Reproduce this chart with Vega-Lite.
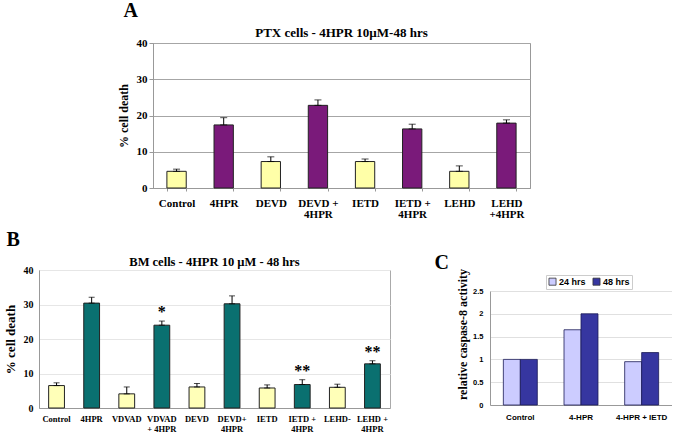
{
  "$schema": "https://vega.github.io/schema/vega-lite/v6.json",
  "background": "white",
  "padding": {"left": 3, "top": 0, "right": 0, "bottom": 0},
  "config": {
    "font": "Liberation Serif",
    "view": {"stroke": "#999999"},
    "axis": {"labelFontWeight": "bold", "titleFontWeight": "bold", "labelColor": "black", "titleColor": "black", "domainColor": "#999999", "tickColor": "#999999"},
    "title": {"fontWeight": "bold", "color": "black"}
  },
  "title": {"text": "A", "anchor": "start", "fontSize": 20, "dx": 120, "offset": 6},
  "datasets": {
    "ptx": [
      {"label": "Control", "v": 4.6, "e": 5.2, "g": "ctrl"},
      {"label": "4HPR", "v": 17.4, "e": 19.4, "g": "hpr"},
      {"label": "DEVD", "v": 7.3, "e": 8.6, "g": "ctrl"},
      {"label": "DEVD +|4HPR", "v": 22.8, "e": 24.3, "g": "hpr"},
      {"label": "IETD", "v": 7.3, "e": 8.0, "g": "ctrl"},
      {"label": "IETD +|4HPR", "v": 16.3, "e": 17.6, "g": "hpr"},
      {"label": "LEHD", "v": 4.6, "e": 6.1, "g": "ctrl"},
      {"label": "LEHD|+4HPR", "v": 17.9, "e": 18.8, "g": "hpr"}
    ],
    "bm": [
      {"label": "Control", "v": 6.5, "e": 7.3, "g": "ctrl", "sig": ""},
      {"label": "4HPR", "v": 30.4, "e": 32.1, "g": "hpr", "sig": ""},
      {"label": "VDVAD", "v": 4.1, "e": 6.1, "g": "ctrl", "sig": ""},
      {"label": "VDVAD|+ 4HPR", "v": 24.0, "e": 25.2, "g": "hpr", "sig": "*"},
      {"label": "DEVD", "v": 6.1, "e": 7.1, "g": "ctrl", "sig": ""},
      {"label": "DEVD+|4HPR", "v": 30.2, "e": 32.5, "g": "hpr", "sig": ""},
      {"label": "IETD", "v": 5.8, "e": 6.7, "g": "ctrl", "sig": ""},
      {"label": "IETD +|4HPR", "v": 6.8, "e": 8.2, "g": "hpr", "sig": "**"},
      {"label": "LEHD-", "v": 6.0, "e": 6.9, "g": "ctrl", "sig": ""},
      {"label": "LEHD +|4HPR", "v": 12.8, "e": 13.7, "g": "hpr", "sig": "**"}
    ],
    "casp": [
      {"cat": "Control", "series": "24 hrs", "v": 1.0},
      {"cat": "Control", "series": "48 hrs", "v": 1.0},
      {"cat": "4-HPR", "series": "24 hrs", "v": 1.65},
      {"cat": "4-HPR", "series": "48 hrs", "v": 2.0},
      {"cat": "4-HPR + IETD", "series": "24 hrs", "v": 0.95},
      {"cat": "4-HPR + IETD", "series": "48 hrs", "v": 1.15}
    ]
  },
  "spacing": 9,
  "resolve": {"scale": {"color": "independent", "y": "independent", "x": "independent"}},
  "vconcat": [
    {
      "spacing": 0,
      "hconcat": [
        {
          "width": 77, "height": 145,
          "data": {"values": [{"a": 1}]},
          "mark": {"type": "point", "opacity": 0},
          "encoding": {},
          "view": {"stroke": null}
        },
        {
          "width": 377, "height": 145,
          "data": {"name": "ptx"},
          "title": {"text": "PTX cells - 4HPR 10µM-48 hrs", "fontSize": 13, "offset": -3},
          "encoding": {
            "x": {"field": "label", "type": "nominal", "sort": null,
              "scale": {"paddingInner": 0.59, "paddingOuter": 0.295},
              "axis": {"title": null, "labelAngle": 0, "labelFontSize": 11, "labelPadding": 6, "labelLineHeight": 11, "labelExpr": "split(datum.label, '|')", "tickBand": "extent", "tickSize": 3}},
            "y": {"field": "v", "type": "quantitative", "scale": {"domain": [0, 40]},
              "axis": {"title": "% cell death", "titleFontSize": 12, "labelFontSize": 11, "values": [0, 10, 20, 30, 40], "gridColor": "#a6a6a6", "tickSize": 4, "labelPadding": 2, "titlePadding": 6}}
          },
          "layer": [
            {
              "mark": {"type": "bar", "stroke": "#222222", "strokeWidth": 1},
              "encoding": {
                "color": {"field": "g", "type": "nominal", "legend": null,
                  "scale": {"domain": ["ctrl", "hpr"], "range": ["#ffffa8", "#7a1a7a"]}}
              }
            },
            {
              "mark": {"type": "errorbar", "color": "black", "ticks": {"size": 7, "thickness": 1}},
              "encoding": {"y2": {"field": "e"}}
            }
          ]
        }
      ]
    },
    {
      "title": {"text": "B", "anchor": "start", "fontSize": 20, "dx": 3, "offset": 3},
      "spacing": 43,
      "resolve": {"scale": {"color": "independent", "y": "independent", "x": "independent"}},
      "hconcat": [
        {
          "width": 351, "height": 138,
          "data": {"name": "bm"},
          "view": {"stroke": "#aaaaaa"},
          "title": {"text": "BM cells - 4HPR 10 µM - 48 hrs", "fontSize": 12.5, "offset": -3},
          "encoding": {
            "x": {"field": "label", "type": "nominal", "sort": null,
              "scale": {"paddingInner": 0.55, "paddingOuter": 0.275},
              "axis": {"title": null, "labelAngle": 0, "labelFontSize": 8.5, "labelPadding": 6, "labelLineHeight": 10, "labelExpr": "split(datum.label, '|')", "ticks": false}},
            "y": {"field": "v", "type": "quantitative", "scale": {"domain": [0, 40]},
              "axis": {"title": "% cell death", "titleFontSize": 13, "labelFontSize": 10, "values": [0, 10, 20, 30, 40], "gridColor": "#e6e6e6", "ticks": false, "labelPadding": 6, "titlePadding": 6}}
          },
          "layer": [
            {
              "mark": {"type": "bar", "stroke": "#222222", "strokeWidth": 1},
              "encoding": {
                "color": {"field": "g", "type": "nominal", "legend": null,
                  "scale": {"domain": ["ctrl", "hpr"], "range": ["#ffffb8", "#0a7070"]}}
              }
            },
            {
              "mark": {"type": "errorbar", "color": "black", "ticks": {"size": 6, "thickness": 1}},
              "encoding": {"y2": {"field": "e"}}
            },
            {
              "mark": {"type": "text", "fontSize": 16, "fontWeight": "bold", "baseline": "alphabetic", "dy": -4, "color": "black"},
              "encoding": {
                "y": {"field": "e", "type": "quantitative", "scale": {"domain": [0, 40]},
                  "axis": {"title": "% cell death", "titleFontSize": 13, "labelFontSize": 10, "values": [0, 10, 20, 30, 40], "gridColor": "#e6e6e6", "ticks": false, "labelPadding": 6, "titlePadding": 6}},
                "text": {"field": "sig"}}
            }
          ]
        },
        {
          "width": 182, "height": 135,
          "data": {"name": "casp"},
          "view": {"stroke": null},
          "title": {"text": "C", "anchor": "start", "fontSize": 20, "dx": -22, "offset": -6},
          "encoding": {
            "x": {"field": "cat", "type": "nominal", "sort": null,
              "scale": {"paddingInner": 0.44, "paddingOuter": 0.22},
              "axis": {"title": null, "labelAngle": 0, "labelFont": "Liberation Sans", "labelFontSize": 8, "labelPadding": 8, "ticks": false}},
            "xOffset": {"field": "series", "type": "nominal"},
            "y": {"field": "v", "type": "quantitative", "scale": {"domain": [0, 2.5], "range": [135, 21]},
              "axis": {"title": "relative caspase-8  activity", "titleFontSize": 12, "titleY": 64, "labelFont": "Liberation Sans", "labelFontSize": 7.5, "format": "~g", "values": [0, 0.5, 1, 1.5, 2, 2.5], "gridColor": "#e0e0e0", "ticks": false, "labelPadding": 7, "titlePadding": 3}}
          },
          "layer": [
            {
              "mark": {"type": "bar", "stroke": "#1a1a55", "strokeWidth": 0.8},
              "encoding": {
                "color": {"field": "series", "type": "nominal",
                  "scale": {"domain": ["24 hrs", "48 hrs"], "range": ["#ccccff", "#3636a0"]},
                  "legend": {"title": null, "orient": "none", "legendX": 56, "legendY": 5, "direction": "horizontal", "symbolType": "square", "symbolSize": 50, "symbolStrokeColor": "#333333", "symbolStrokeWidth": 0.8, "labelFont": "Liberation Sans", "labelFontWeight": "bold", "labelFontSize": 9, "labelColor": "black", "strokeColor": "#cccccc", "padding": 2, "columnPadding": 5, "labelOffset": 2}}
              }
            },
            {
              "mark": {"type": "bar", "opacity": 0},
              "encoding": {
                "y": {"field": "v", "type": "quantitative",
                  "axis": {"orient": "right", "title": null, "labels": false, "ticks": false, "grid": false, "domain": true, "domainColor": "#999999"}}
              }
            }
          ],
          "resolve": {"axis": {"y": "independent"}}
        }
      ]
    }
  ]
}
